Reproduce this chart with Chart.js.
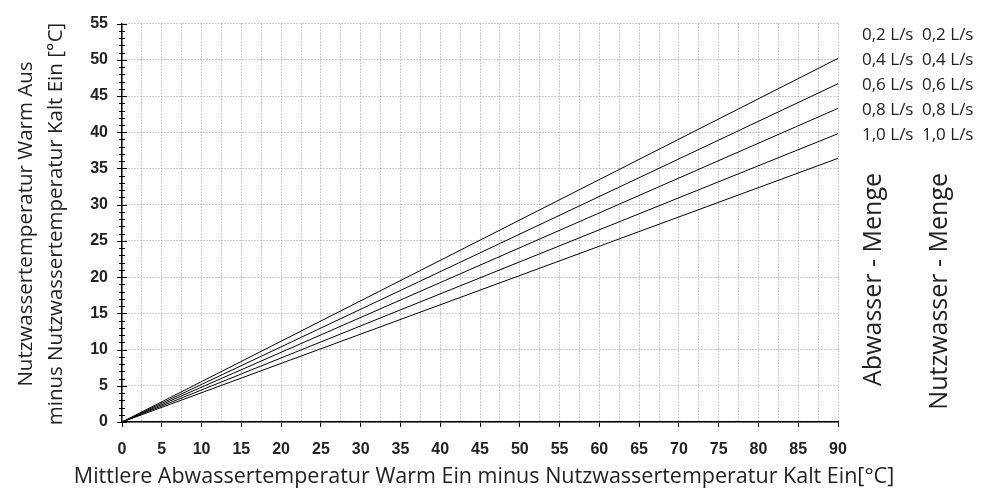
<!DOCTYPE html>
<html>
<head>
<meta charset="utf-8">
<script src="https://cdn.jsdelivr.net/npm/chart.js@4"></script>
<style>
  html, body { margin: 0; padding: 0; background: #fff; }
  #wrap { width: 989px; height: 489px; }
</style>
</head>
<body>
<div id="wrap"><canvas id="myChart" width="989" height="489"></canvas></div>
<script>
  // x range of the diagram (lines start at origin)
  const xValues = [0, 90];
  // Nutzwasser delta at each x, one line per flow rate
  const flow02 = [0, 50.2];
  const flow04 = [0, 46.7];
  const flow06 = [0, 43.3];
  const flow08 = [0, 39.8];
  const flow10 = [0, 36.4];
  const flowLabels = ['0,2 L/s', '0,4 L/s', '0,6 L/s', '0,8 L/s', '1,0 L/s'];
  const seriesValues = [flow02, flow04, flow06, flow08, flow10];

  const ctx = document.getElementById('myChart').getContext('2d');

  // titles, right side label block, y minor ticks
  const extras = {
    id: 'extras',
    afterDraw(chart) {
      const c = chart.ctx;
      const y = chart.scales.y;
      const x = chart.scales.x;
      c.save();
      c.strokeStyle = '#000';
      c.lineWidth = 1;
      for (let v = 0; v <= 55; v++) {
        const py = Math.round(y.getPixelForValue(v)) + 0.5;
        const len = v % 5 === 0 ? 5 : 3;
        c.beginPath();
        c.moveTo(x.left - len, py);
        c.lineTo(x.left + len, py);
        c.stroke();
      }
      c.fillStyle = '#222';
      c.font = '17px "Open Sans"';
      c.textBaseline = 'middle';
      flowLabels.forEach((t, i) => {
        c.fillText(t, 862, 35 + i * 25);
        c.fillText(t, 922, 35 + i * 25);
      });

      // vertical flow captions, end of text at top
      c.font = '25px "Open Sans"';
      c.textBaseline = 'alphabetic';
      c.textAlign = 'right';
      [['Abwasser - Menge', 881], ['Nutzwasser - Menge', 947]].forEach(([t, px]) => {
        c.save();
        c.translate(px, 173);
        c.rotate(-Math.PI / 2);
        c.fillText(t, 0, 0);
        c.restore();
      });

      // y axis title, two lines
      c.font = '20.5px "Open Sans"';
      c.textAlign = 'center';
      [['Nutzwassertemperatur Warm Aus', 32], ['minus Nutzwassertemperatur Kalt Ein [°C]', 62]].forEach(([t, px]) => {
        c.save();
        c.translate(px, 224);
        c.rotate(-Math.PI / 2);
        c.fillText(t, 0, 0);
        c.restore();
      });

      // x axis title
      c.font = '21.5px "Open Sans"';
      c.fillText('Mittlere Abwassertemperatur Warm Ein minus Nutzwassertemperatur Kalt Ein[°C]', 484, 483);
      c.restore();
    }
  };

  const myChart = new Chart(ctx, {
    type: 'line',
    data: {
      labels: xValues,
      datasets: seriesValues.map((d, i) => ({
        label: flowLabels[i],
        data: d.map((v, j) => ({ x: xValues[j], y: v })),
        borderColor: '#000',
        borderWidth: 1,
        pointRadius: 0,
        tension: 0,
        fill: false
      }))
    },
    options: {
      responsive: false,
      animation: false,
      layout: { padding: { top: 17, right: 151, left: 10, bottom: 0 } },
      plugins: {
        legend: { display: false },
        tooltip: { enabled: false }
      },
      scales: {
        x: {
          type: 'linear',
          min: 0, max: 90,
          afterFit: s => { s.height = 67; },
          ticks: {
            stepSize: 2.5,
            autoSkip: false,
            maxRotation: 0,
            color: '#222',
            font: { family: 'Liberation Sans', size: 16, weight: 'bold' },
            padding: 13,
            callback: v => (v % 5 === 0 ? v : '')
          },
          grid: {
            color: '#999',
            tickColor: c => (c.tick && c.tick.value % 5 === 0 ? '#000' : 'rgba(0,0,0,0)'),
            tickLength: 5
          },
          border: { color: '#000', width: 1.5, dash: [1, 2] }
        },
        y: {
          min: 0, max: 55,
          afterFit: s => { s.width = 112; },
          ticks: {
            stepSize: 5,
            color: '#222',
            font: { family: 'Liberation Sans', size: 16, weight: 'bold' },
            padding: 14
          },
          grid: {
            color: '#999',
            tickLength: 0
          },
          border: { color: '#000', width: 1.5, dash: [1, 2] }
        }
      }
    },
    plugins: [extras]
  });
</script>
</body>
</html>
